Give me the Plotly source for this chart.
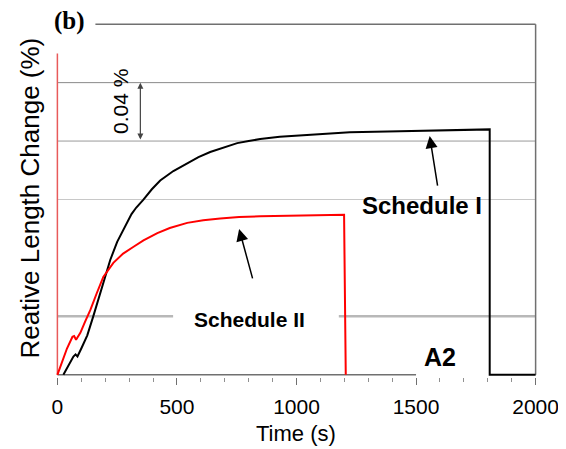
import plotly.graph_objects as go

# ---- data ----
black_t = [25, 50, 67, 76, 84, 100, 125, 150, 171, 195, 221, 250, 276, 310, 330, 359, 395, 430, 485, 543, 590, 639, 700, 752, 800, 848, 930, 1015, 1223, 1432, 1600, 1800, 1808, 1808, 2000]
black_y = [0, 0.008, 0.0125, 0.014, 0.0125, 0.018, 0.027, 0.040, 0.051, 0.064, 0.0786, 0.091, 0.0991, 0.110, 0.1145, 0.1197, 0.127, 0.133, 0.1395, 0.145, 0.149, 0.1525, 0.156, 0.1586, 0.160, 0.1614, 0.163, 0.164, 0.166, 0.1668, 0.1675, 0.168, 0.168, 0, 0]

red_t = [0, 20, 40, 63, 70, 78, 96, 115, 138, 165, 192, 234, 275, 317, 360, 418, 470, 543, 610, 681, 760, 848, 1015, 1195, 1199, 1206]
red_y = [0, 0.009, 0.018, 0.026, 0.0265, 0.024, 0.0287, 0.036, 0.0444, 0.056, 0.067, 0.0766, 0.083, 0.0875, 0.092, 0.097, 0.1005, 0.104, 0.1058, 0.107, 0.108, 0.1085, 0.1088, 0.1095, 0.1095, 0]

x_ticks = [0, 500, 1000, 1500, 2000]
grid_levels = [0.12, 0.16, 0.20]
grid_colors = ["#c8c8c8", "#9a9a9a", "#8a8a8a"]

SANS = "Liberation Sans, Arial, sans-serif"

fig = go.Figure()

shapes = []
for lvl, col in zip(grid_levels, grid_colors):
    shapes.append(dict(type="line", xref="x", yref="y", x0=0, x1=2000, y0=lvl, y1=lvl,
                       line=dict(color=col, width=1), layer="below"))
shapes.append(dict(type="line", xref="x", yref="y", x0=0, x1=484, y0=0.04, y1=0.04,
                   line=dict(color="#b8b8b8", width=2.5), layer="below"))
shapes.append(dict(type="line", xref="x", yref="y", x0=1177, x1=2000, y0=0.04, y1=0.04,
                   line=dict(color="#b8b8b8", width=2.5), layer="below"))
shapes.append(dict(type="line", xref="x", yref="y", x0=159, x1=2000, y0=0.24, y1=0.24,
                   line=dict(color="#707070", width=1.5), layer="below"))
shapes.append(dict(type="line", xref="x", yref="y", x0=2000, x1=2000, y0=0, y1=0.24,
                   line=dict(color="#707070", width=1.5), layer="below"))
shapes.append(dict(type="line", xref="x", yref="y", x0=0, x1=1500, y0=0, y1=0,
                   line=dict(color="#707070", width=1.5), layer="below"))
shapes.append(dict(type="line", xref="x", yref="y", x0=0, x1=0, y0=0, y1=0.220,
                   line=dict(color="#e85a5a", width=1.5), layer="below"))

fig.add_trace(go.Scatter(x=black_t, y=black_y, mode="lines",
                         line=dict(color="black", width=2), showlegend=False, hoverinfo="skip"))
fig.add_trace(go.Scatter(x=red_t, y=red_y, mode="lines",
                         line=dict(color="#ff0000", width=2), showlegend=False, hoverinfo="skip"))

ann = []
ann.append(dict(x=-0.052, y=0.505, xref="paper", yref="paper", xanchor="center", yanchor="middle",
                text="Reative Length Change (%)", textangle=-90, showarrow=False,
                font=dict(family=SANS, size=26, color="black")))
ann.append(dict(x=0.499, y=-0.16, xref="paper", yref="paper", xanchor="center", yanchor="middle",
                text="Time (s)", showarrow=False, font=dict(family=SANS, size=22, color="black")))
ann.append(dict(x=-0.006, y=1.003, xref="paper", yref="paper", xanchor="left", yanchor="middle",
                text="<b>(b)</b>", showarrow=False,
                font=dict(family="Liberation Serif, Times New Roman, serif", size=25, color="black")))
ann.append(dict(x=263, y=0.187, xref="x", yref="y", text="0.04 %", textangle=-90, showarrow=False,
                font=dict(family=SANS, size=21, color="black")))
ann.append(dict(x=347, y=0.2, ax=347, ay=0.16, xref="x", yref="y", axref="x", ayref="y",
                text="", showarrow=True, arrowhead=2, startarrowhead=2, arrowside="end+start",
                arrowsize=1, arrowwidth=1.2, arrowcolor="#444"))
ann.append(dict(x=1524, y=0.116, xref="x", yref="y", text="<b>Schedule I</b>", showarrow=False,
                font=dict(family=SANS, size=24, color="black")))
ann.append(dict(x=1557, y=0.1634, ax=1591, ay=0.1285, xref="x", yref="y", axref="x", ayref="y",
                text="", showarrow=True, arrowhead=2, arrowsize=1.6, arrowwidth=1.5, arrowcolor="black"))
ann.append(dict(x=802, y=0.038, xref="x", yref="y", text="<b>Schedule II</b>", showarrow=False,
                font=dict(family=SANS, size=21, color="black")))
ann.append(dict(x=760, y=0.0998, ax=818, ay=0.065, xref="x", yref="y", axref="x", ayref="y",
                text="", showarrow=True, arrowhead=2, arrowsize=1.6, arrowwidth=1.5, arrowcolor="black"))
ann.append(dict(x=1599, y=0.0123, xref="x", yref="y", text="<b>A2</b>", showarrow=False,
                font=dict(family=SANS, size=25, color="black")))

# the page body has an 8px margin, so the figure is sized 8px smaller than the window
fig.update_layout(
    width=558, height=441,
    margin=dict(l=47, r=28, t=14, b=72),
    paper_bgcolor="white", plot_bgcolor="white",
    shapes=shapes, annotations=ann, showlegend=False,
    xaxis=dict(range=[-10, 2010], showgrid=False, zeroline=False, showline=False, automargin=False,
               tickmode="array", tickvals=x_ticks, ticktext=[str(v) for v in x_ticks],
               ticks="outside", ticklen=7, tickcolor="#707070", tickwidth=1, ticklabelstandoff=4,
               minor=dict(dtick=100, ticks="outside", ticklen=4, tickcolor="#909090", showgrid=False),
               tickfont=dict(family=SANS, size=21, color="black")),
    yaxis=dict(range=[-0.0015, 0.2415], showgrid=False, zeroline=False, showline=False, automargin=False,
               showticklabels=False, ticks=""),
)

fig.write_html("out.html")
